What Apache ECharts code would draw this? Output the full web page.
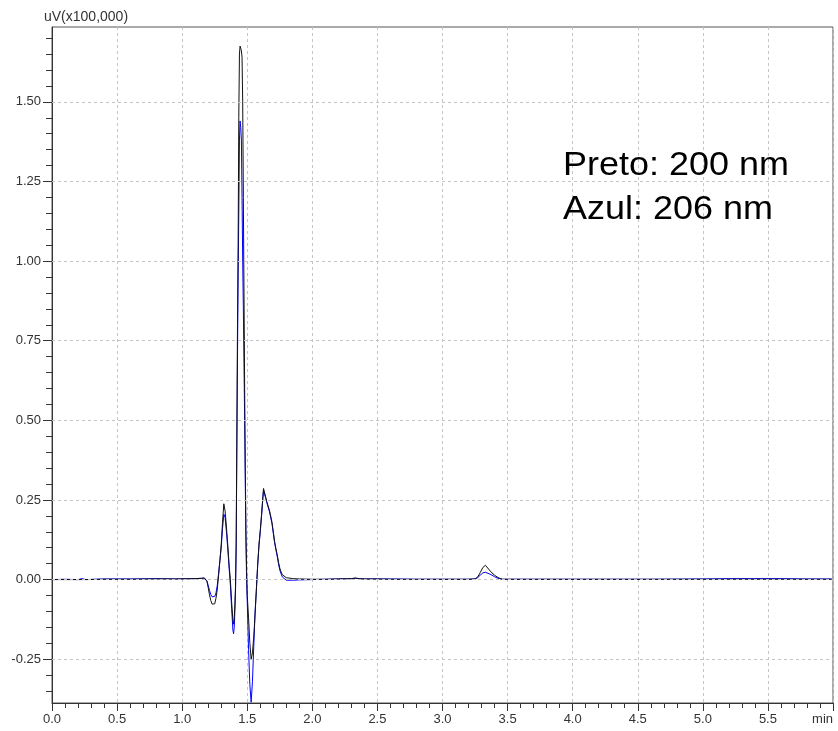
<!DOCTYPE html>
<html>
<head>
<meta charset="utf-8">
<script src="https://cdn.jsdelivr.net/npm/echarts@6/dist/echarts.min.js"></script>
<style>
  html, body { margin: 0; padding: 0; background: #fff; }
  #chart { width: 838px; height: 731px; }
</style>
</head>
<body>
<div id="chart"></div>
<script>
// Retention times (min) shared by both detector traces
const times = [
  0.00, 0.10, 0.20, 0.23, 0.26, 0.40, 0.60, 0.80, 0.95, 1.10,
  1.15, 1.17, 1.18, 1.19, 1.20, 1.21, 1.22, 1.23, 1.24, 1.25,
  1.26, 1.27, 1.28, 1.29, 1.30, 1.31, 1.32, 1.325, 1.33, 1.34,
  1.35, 1.36, 1.37, 1.38, 1.39, 1.395, 1.40, 1.405, 1.41, 1.415,
  1.42, 1.425, 1.43, 1.435, 1.44, 1.445, 1.45, 1.455, 1.46, 1.465,
  1.47, 1.475, 1.48, 1.485, 1.49, 1.495, 1.50, 1.51, 1.52, 1.53,
  1.535, 1.54, 1.55, 1.56, 1.57, 1.58, 1.59, 1.60, 1.61, 1.62,
  1.625, 1.63, 1.64, 1.65, 1.66, 1.67, 1.68, 1.69, 1.70, 1.71,
  1.72, 1.73, 1.74, 1.75, 1.76, 1.77, 1.78, 1.80, 1.85, 1.90,
  2.00, 2.10, 2.20, 2.30, 2.33, 2.36, 2.40, 2.50, 2.60, 2.80,
  3.00, 3.20, 3.25, 3.27, 3.29, 3.31, 3.32, 3.33, 3.34, 3.36,
  3.38, 3.40, 3.42, 3.44, 3.46, 3.50, 3.80, 4.20, 4.60, 5.00,
  5.20, 5.40, 5.60, 5.80, 5.99
];

// Signal at 200 nm (uV x100,000)
const preto200 = [
  0.000, 0.000, 0.000, 0.000, 0.000, 0.001, 0.001, 0.002, 0.002, 0.003,
  0.004, 0.005, 0.004, -0.005, -0.025, -0.048, -0.066, -0.077, -0.081, -0.076,
  -0.058, -0.030, 0.015, 0.060, 0.110, 0.180, 0.238, 0.240, 0.215, 0.165,
  0.110, 0.050, 0.000, -0.070, -0.130, -0.140, -0.120, -0.080, -0.020, 0.120,
  0.450, 0.800, 1.050, 1.450, 1.650, 1.675, 1.668, 1.660, 1.640, 1.500,
  1.200, 0.900, 0.600, 0.350, 0.150, 0.030, -0.050, -0.120, -0.200, -0.250,
  -0.253, -0.230, -0.180, -0.110, -0.034, 0.045, 0.110, 0.155, 0.205, 0.260,
  0.286, 0.280, 0.262, 0.245, 0.232, 0.218, 0.200, 0.180, 0.150, 0.120,
  0.098, 0.078, 0.055, 0.036, 0.024, 0.015, 0.010, 0.006, 0.003, 0.002,
  0.001, 0.001, 0.002, 0.003, 0.005, 0.003, 0.002, 0.002, 0.001, 0.001,
  0.001, 0.001, 0.002, 0.008, 0.022, 0.038, 0.044, 0.045, 0.041, 0.030,
  0.021, 0.014, 0.008, 0.004, 0.001, 0.001, 0.001, 0.001, 0.001, 0.001,
  0.001, 0.001, 0.001, 0.001, 0.001
];

// Signal at 206 nm (uV x100,000)
const azul206 = [
  0.000, 0.001, 0.000, 0.003, 0.000, 0.002, 0.002, 0.003, 0.002, 0.003,
  0.004, 0.005, 0.004, -0.004, -0.018, -0.034, -0.047, -0.054, -0.057, -0.053,
  -0.042, -0.018, 0.020, 0.060, 0.100, 0.160, 0.205, 0.210, 0.195, 0.150,
  0.100, 0.040, -0.015, -0.090, -0.160, -0.170, -0.150, -0.100, -0.030, 0.100,
  0.400, 0.700, 0.950, 1.150, 1.380, 1.440, 1.420, 1.380, 1.200, 1.000,
  0.850, 0.680, 0.500, 0.300, 0.120, 0.000, -0.070, -0.220, -0.330, -0.385,
  -0.380, -0.320, -0.210, -0.105, -0.030, 0.045, 0.105, 0.150, 0.200, 0.255,
  0.280, 0.276, 0.258, 0.242, 0.228, 0.214, 0.196, 0.176, 0.146, 0.116,
  0.094, 0.074, 0.050, 0.030, 0.018, 0.008, 0.002, -0.002, -0.002, -0.001,
  0.000, 0.001, 0.002, 0.003, 0.004, 0.003, 0.002, 0.002, 0.002, 0.001,
  0.001, 0.001, 0.002, 0.006, 0.014, 0.021, 0.023, 0.023, 0.022, 0.018,
  0.014, 0.009, 0.005, 0.003, 0.001, 0.001, 0.001, 0.001, 0.001, 0.002,
  0.003, 0.003, 0.003, 0.002, 0.002
];

// Labelled intensity levels
const yMajorTicks = [-0.25, 0.00, 0.25, 0.50, 0.75, 1.00, 1.25, 1.50];

const Y_MIN = -0.3875;
const Y_MAX = 1.735;
const X_MIN = 0;
const X_MAX = 6.0;

// Minor intensity ticks every 0.05 inside the visible range
const yMinorTicks = [];
for (let k = -7; k <= 34; k++) yMinorTicks.push(+(k * 0.05).toFixed(2));

const pair = (vals) => times.map((t, i) => [t, vals[i]]);

const FONT = '"Liberation Sans", Arial, sans-serif';
const AXIS_COLOR = '#333333';
const LABEL_COLOR = '#333333';
const GRID_COLOR = '#c4c4c4';

const chart = echarts.init(document.getElementById('chart'), null, { renderer: 'canvas' });

chart.setOption({
  animation: false,
  backgroundColor: '#ffffff',
  grid: {
    left: 52, top: 27, right: 5, bottom: 28,
    containLabel: false,
    outerBoundsMode: 'none',
    show: true, borderColor: '#555555', borderWidth: 1, backgroundColor: 'transparent'
  },
  xAxis: {
    type: 'value',
    min: X_MIN, max: X_MAX, interval: 0.5,
    axisLine: { show: true, onZero: false, lineStyle: { color: AXIS_COLOR, width: 1 } },
    axisTick: { show: true, inside: false, length: 8, lineStyle: { color: AXIS_COLOR } },
    minorTick: { show: true, splitNumber: 5, length: 5, lineStyle: { color: AXIS_COLOR } },
    axisLabel: {
      margin: 10, fontSize: 13, fontFamily: FONT, color: LABEL_COLOR,
      alignMaxLabel: 'right',
      formatter: (v) => (Math.abs(v - X_MAX) < 1e-6 ? 'min' : v.toFixed(1))
    },
    splitLine: { show: true, lineStyle: { color: GRID_COLOR, type: [3, 3], width: 1 } }
  },
  yAxis: [
    {
      type: 'value',
      min: Y_MIN, max: Y_MAX,
      name: 'uV(x100,000)',
      nameLocation: 'end',
      nameGap: 3,
      nameTextStyle: { fontSize: 14, fontFamily: FONT, color: LABEL_COLOR, align: 'left', padding: [0, 0, 0, -8] },
      axisLine: { show: true, onZero: false, lineStyle: { color: AXIS_COLOR, width: 1 } },
      axisTick: { show: true, inside: false, length: 6, customValues: yMinorTicks, lineStyle: { color: AXIS_COLOR } },
      axisLabel: { show: false },
      splitLine: { show: false }
    },
    {
      type: 'value',
      position: 'left',
      min: Y_MIN, max: Y_MAX,
      axisLine: { show: false },
      axisTick: { show: true, inside: false, length: 9, customValues: yMajorTicks, lineStyle: { color: AXIS_COLOR } },
      axisLabel: {
        show: true, margin: 11, fontSize: 13, fontFamily: FONT, color: LABEL_COLOR,
        customValues: yMajorTicks,
        formatter: (v) => v.toFixed(2)
      },
      splitLine: { show: false }
    }
  ],
  series: [
    {
      // horizontal dashed grid at the labelled levels
      type: 'line',
      z: 1,
      silent: true,
      data: [],
      markLine: {
        silent: true,
        symbol: ['none', 'none'],
        label: { show: false },
        lineStyle: { color: GRID_COLOR, type: [3, 3], width: 1 },
        data: yMajorTicks.map((v) => ({ yAxis: v }))
      }
    },
    {
      name: 'Azul: 206 nm',
      type: 'line',
      z: 2,
      data: pair(azul206),
      showSymbol: false,
      symbol: 'none',
      lineStyle: { color: '#0000ff', width: 1 },
      clip: true
    },
    {
      name: 'Preto: 200 nm',
      type: 'line',
      z: 3,
      data: pair(preto200),
      showSymbol: false,
      symbol: 'none',
      lineStyle: { color: '#111111', width: 1 },
      clip: true
    }
  ],
  graphic: [
    {
      type: 'text', left: 563, top: 149, z: 10, scaleX: 1.09,
      style: { text: 'Preto: 200 nm', font: '33px ' + FONT, fill: '#000000' }
    },
    {
      type: 'text', left: 563, top: 193, z: 10, scaleX: 1.09,
      style: { text: 'Azul: 206 nm', font: '33px ' + FONT, fill: '#000000' }
    }
  ]
});
</script>
</body>
</html>
